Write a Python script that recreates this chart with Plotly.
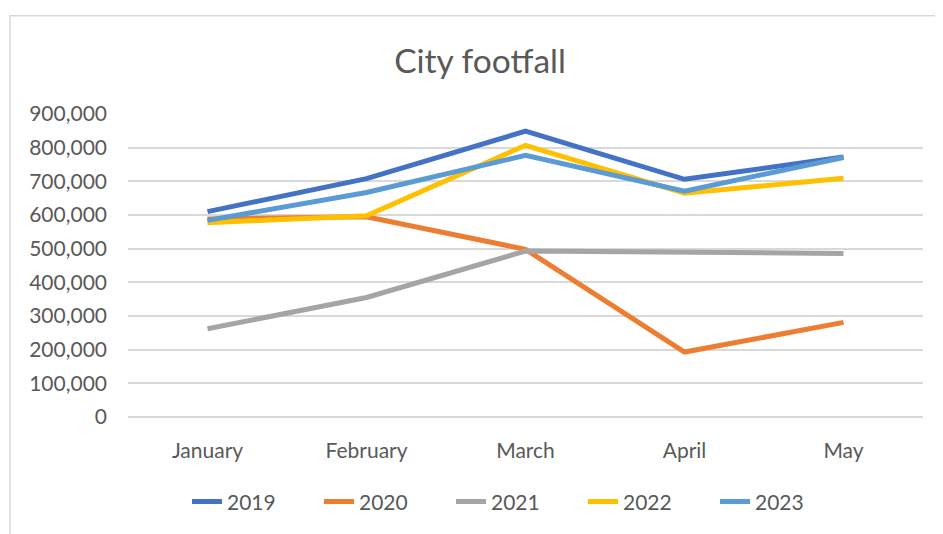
import plotly.graph_objects as go

months = ["January", "February", "March", "April", "May"]
years = ["2019", "2020", "2021", "2022", "2023"]
v2019 = [610000, 708000, 849000, 706000, 772000]
v2020 = [588000, 595000, 498000, 193000, 281000]
v2021 = [262000, 355000, 493000, 488000, 486000]
v2022 = [577000, 598000, 807000, 665000, 709000]
v2023 = [584000, 667000, 777000, 671000, 771000]
series = [v2019, v2020, v2021, v2022, v2023]
colors = ["#4472C4", "#ED7D31", "#A5A5A5", "#FFC000", "#5B9BD5"]

FONT = "Lato"
TXT = "#595959"
GRID = "#D9D9D9"

W, H = 935, 526
L, R, T, B = 120, 20, 106, 114.5
PW = W - L - R
PH = H - T - B
bottom = H - B

fig = go.Figure()
for name, vals, col in zip(years, series, colors):
    fig.add_trace(go.Scatter(
        x=months, y=vals, name=name, mode="lines",
        line=dict(color=col, width=5),
    ))

fig.update_layout(
    width=W, height=H,
    margin=dict(l=L, r=R, t=T, b=B),
    paper_bgcolor="white", plot_bgcolor="white",
    font=dict(family=FONT, color=TXT, size=21),
    title=dict(text="City footfall", x=472/W, xref="container", xanchor="center",
               y=1 - 53/H, yref="container", yanchor="middle",
               font=dict(family=FONT, size=33.5, color=TXT)),
    legend=dict(orientation="h", x=(179 - L)/PW, xanchor="left",
                y=(bottom - 497)/PH, yanchor="middle",
                entrywidth=87, font=dict(family=FONT, size=21, color=TXT),
                bgcolor="rgba(0,0,0,0)"),
    showlegend=True,
)
fig.update_xaxes(type="category", range=[-0.5, 4.5], showgrid=False, showline=False,
                 zeroline=False, ticks="", ticklabelstandoff=19,
                 tickfont=dict(family=FONT, size=21, color=TXT))
fig.update_yaxes(range=[0, 900000], dtick=100000, tickformat=",", showgrid=True,
                 gridcolor=GRID, gridwidth=1.5, zeroline=True, zerolinecolor=GRID,
                 zerolinewidth=1.5, showline=False, ticks="", ticklabelstandoff=20,
                 tickfont=dict(family=FONT, size=21, color=TXT))

fig.add_shape(type="rect", xref="paper", yref="paper",
              x0=(2 - L)/PW, x1=(W + 10 - L)/PW,
              y0=(bottom - H - 10)/PH, y1=(bottom - 7)/PH,
              line=dict(color=GRID, width=1.5), fillcolor="rgba(0,0,0,0)", layer="below")

fig.write_html("out.html")
